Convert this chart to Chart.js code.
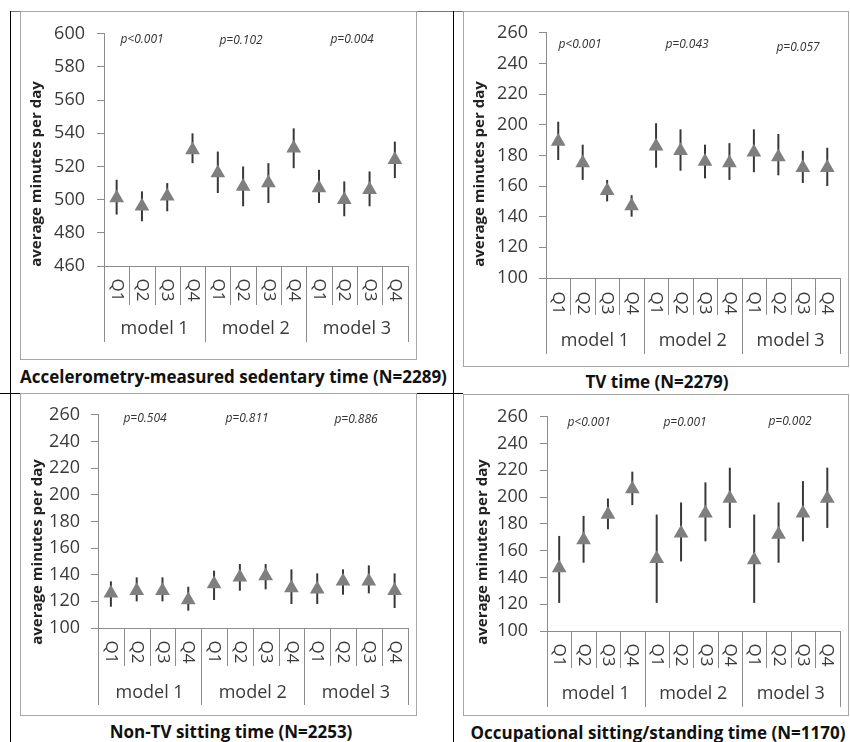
<!DOCTYPE html>
<html>
<head>
<meta charset="utf-8">
<script src="https://cdn.jsdelivr.net/npm/chart.js"></script>
<style>
  body { margin: 0; background: #fff; font-family: "Open Sans", sans-serif; }
  #page { position: relative; width: 850px; height: 742px; overflow: hidden; }
  .box { position: absolute; border: 1px solid #a6a6a6; box-sizing: border-box; }
  canvas { position: absolute; }
  .rule { position: absolute; background: #000; }
  .title { position: absolute; font-weight: bold; font-size: 17px; color: #111; white-space: nowrap; line-height: 20px; }
</style>
</head>
<body>
<div id="page">
  <div class="rule" style="left:10px;top:11px;width:453px;height:1px;background:#777"></div>
  <div class="rule" style="left:10px;top:11px;width:1px;height:731px"></div>
  <div class="rule" style="left:453px;top:11px;width:1px;height:731px"></div>
  <div class="rule" style="left:0;top:393px;width:463px;height:1px"></div>
</div>
<script>
const quartiles = ['Q1', 'Q2', 'Q3', 'Q4'];
const models = ['model 1', 'model 2', 'model 3'];
const yTitle = 'average minutes per day';

// accelerometry-measured sedentary time
const accelMean = [501, 496, 502, 530, 516, 508, 510, 531, 507, 500, 506, 524];
const accelLow = [491, 487, 493, 522, 504, 496, 498, 519, 498, 490, 496, 513];
const accelHigh = [512, 505, 510, 540, 529, 520, 522, 543, 518, 511, 517, 535];
const accelP = ['p<0.001', 'p=0.102', 'p=0.004'];

// TV time
const tvMean = [189, 175, 157, 147, 186, 183, 176, 175, 182, 179, 172, 172];
const tvLow = [177, 164, 150, 140, 172, 170, 165, 164, 169, 167, 162, 160];
const tvHigh = [202, 187, 164, 154, 201, 197, 187, 188, 197, 194, 183, 185];
const tvP = ['p<0.001', 'p=0.043', 'p=0.057'];

// non-TV sitting time
const nontvMean = [126, 128, 128, 121, 133, 138, 139, 130, 129, 135, 135, 128];
const nontvLow = [116, 120, 120, 113, 121, 128, 129, 118, 118, 125, 126, 115];
const nontvHigh = [135, 138, 138, 131, 143, 148, 148, 144, 141, 144, 147, 141];
const nontvP = ['p=0.504', 'p=0.811', 'p=0.886'];

// occupational sitting/standing time
const occMean = [147, 168, 187, 206, 154, 173, 188, 199, 153, 172, 188, 199];
const occLow = [121, 151, 176, 194, 121, 152, 167, 177, 121, 151, 167, 177];
const occHigh = [171, 186, 199, 219, 187, 196, 211, 222, 187, 196, 212, 222];
const occP = ['p<0.001', 'p=0.001', 'p=0.002'];

const categories = [];
models.forEach((m) => quartiles.forEach((q) => categories.push(m + ' ' + q)));

const panels = [
  {
    title: 'Accelerometry-measured sedentary time (N=2289)', titleLeft: 20, titleTop: 367, titleAlign: 'left',
    box: [20, 11, 396, 348], padTop: 16, padRight: 0, yw: 84, xh: 93, tickPad: 12,
    min: 460, max: 600, mean: accelMean, low: accelLow, high: accelHigh, p: accelP,
    pPos: [[122, 29], [221, 30], [332, 29]], yTitlePos: [17, 163],
    qY: 279, qSep: 294, gSep: 331, modelY: 318
  },
  {
    title: 'TV time (N=2279)', titleLeft: 657, titleTop: 372, titleAlign: 'center',
    box: [463, 11, 385, 355], padTop: 14, padRight: 0, yw: 83, xh: 88, tickPad: 11,
    min: 100, max: 260, mean: tvMean, low: tvLow, high: tvHigh, p: tvP,
    pPos: [[117, 34], [224, 34], [335, 37]], yTitlePos: [17, 163],
    qY: 292, qSep: 304, gSep: 343, modelY: 330
  },
  {
    title: 'Non-TV sitting time (N=2253)', titleLeft: 231, titleTop: 722, titleAlign: 'center',
    box: [20, 393, 396, 322], padTop: 13, padRight: 1, yw: 78, xh: 87, tickPad: 11,
    min: 100, max: 260, mean: nontvMean, low: nontvLow, high: nontvHigh, p: nontvP,
    pPos: [[125, 26], [227, 26], [336, 27]], yTitlePos: [18, 159],
    qY: 259, qSep: 273, gSep: 312, modelY: 300
  },
  {
    title: 'Occupational sitting/standing time (N=1170)', titleLeft: 658, titleTop: 723, titleAlign: 'center',
    box: [463, 394, 385, 321], padTop: 11, padRight: 0, yw: 84, xh: 84, tickPad: 12,
    min: 100, max: 260, mean: occMean, low: occLow, high: occHigh, p: occP,
    pPos: [[126, 29], [222, 29], [327, 28]], yTitlePos: [20, 158],
    qY: 261, qSep: 274, gSep: 313, modelY: 300
  }
];

const textColor = '#3a3a3a';
const axisColor = '#8c8c8c';

function makeDecor(panel) {
  return {
    id: 'panelDecor',
    beforeDatasetsDraw(chart) {
      const { ctx, scales: { x, y } } = chart;
      ctx.save();
      ctx.strokeStyle = '#383838';
      ctx.lineWidth = 2;
      panel.low.forEach((lo, i) => {
        const px = x.getPixelForValue(i);
        ctx.beginPath();
        ctx.moveTo(px, y.getPixelForValue(lo));
        ctx.lineTo(px, y.getPixelForValue(panel.high[i]));
        ctx.stroke();
      });
      ctx.restore();
    },
    afterDraw(chart) {
      const { ctx, scales: { x, y } } = chart;
      const n = categories.length;
      const step = x.width / n;
      ctx.save();

      // category separators
      ctx.strokeStyle = axisColor;
      ctx.lineWidth = 1;
      for (let i = 0; i <= n; i++) {
        const xx = Math.round(x.left + i * step) + 0.5;
        ctx.beginPath();
        ctx.moveTo(xx, y.bottom);
        ctx.lineTo(xx, i % 4 === 0 ? panel.gSep : panel.qSep);
        ctx.stroke();
      }

      ctx.fillStyle = textColor;
      ctx.textAlign = 'center';
      ctx.textBaseline = 'middle';

      // quartile labels, rotated clockwise
      ctx.font = '17px "Open Sans"';
      categories.forEach((c, i) => {
        ctx.save();
        ctx.translate(x.getPixelForValue(i), panel.qY);
        ctx.rotate(Math.PI / 2);
        ctx.fillText(quartiles[i % 4], 0, 0);
        ctx.restore();
      });

      // model labels
      ctx.font = '18px "Open Sans"';
      models.forEach((m, g) => {
        const cx = (x.getPixelForValue(g * 4) + x.getPixelForValue(g * 4 + 3)) / 2;
        ctx.fillText(m, cx, panel.modelY);
      });

      // p values
      ctx.fillStyle = '#333';
      ctx.font = 'italic 12px "Open Sans"';
      panel.p.forEach((t, g) => ctx.fillText(t, panel.pPos[g][0], panel.pPos[g][1]));

      // y axis title
      ctx.fillStyle = '#222';
      ctx.font = 'bold 15px "Open Sans"';
      ctx.translate(panel.yTitlePos[0], panel.yTitlePos[1]);
      ctx.rotate(-Math.PI / 2);
      ctx.fillText(yTitle, 0, 0);
      ctx.restore();
    }
  };
}

const page = document.getElementById('page');

panels.forEach((panel) => {
  const [bx, by, bw, bh] = panel.box;
  const box = document.createElement('div');
  box.className = 'box';
  box.style.left = bx + 'px';
  box.style.top = by + 'px';
  box.style.width = bw + 1 + 'px';
  box.style.height = bh + 1 + 'px';
  page.appendChild(box);

  const canvas = document.createElement('canvas');
  canvas.width = bw;
  canvas.height = bh;
  canvas.style.left = bx + 'px';
  canvas.style.top = by + 'px';
  page.appendChild(canvas);

  const title = document.createElement('div');
  title.className = 'title';
  title.textContent = panel.title;
  title.style.top = panel.titleTop + 'px';
  title.style.left = panel.titleLeft + 'px';
  if (panel.titleAlign === 'center') {
    title.style.transform = 'translateX(-50%)';
  }
  page.appendChild(title);

  new Chart(canvas.getContext('2d'), {
    type: 'line',
    data: {
      labels: categories,
      datasets: [{
        data: panel.mean,
        showLine: false,
        pointStyle: 'triangle',
        pointRadius: 8.5,
        pointHoverRadius: 8.5,
        pointBorderWidth: 0,
        backgroundColor: '#7f7f7f',
        borderColor: '#7f7f7f'
      }]
    },
    options: {
      responsive: false,
      animation: false,
      events: [],
      layout: { padding: { top: panel.padTop, right: panel.padRight, left: 0, bottom: 0 } },
      plugins: {
        legend: { display: false },
        tooltip: { enabled: false }
      },
      scales: {
        x: {
          offset: true,
          grid: { display: false },
          border: { color: axisColor },
          ticks: { display: false },
          afterFit: (s) => { s.height = panel.xh; }
        },
        y: {
          min: panel.min,
          max: panel.max,
          ticks: {
            stepSize: 20,
            padding: panel.tickPad,
            color: textColor,
            font: { family: 'Open Sans', size: 18 }
          },
          grid: { drawOnChartArea: false, tickLength: 7, color: axisColor },
          border: { color: axisColor },
          afterFit: (s) => { s.width = panel.yw; }
        }
      }
    },
    plugins: [makeDecor(panel)]
  });
});
</script>
</body>
</html>
